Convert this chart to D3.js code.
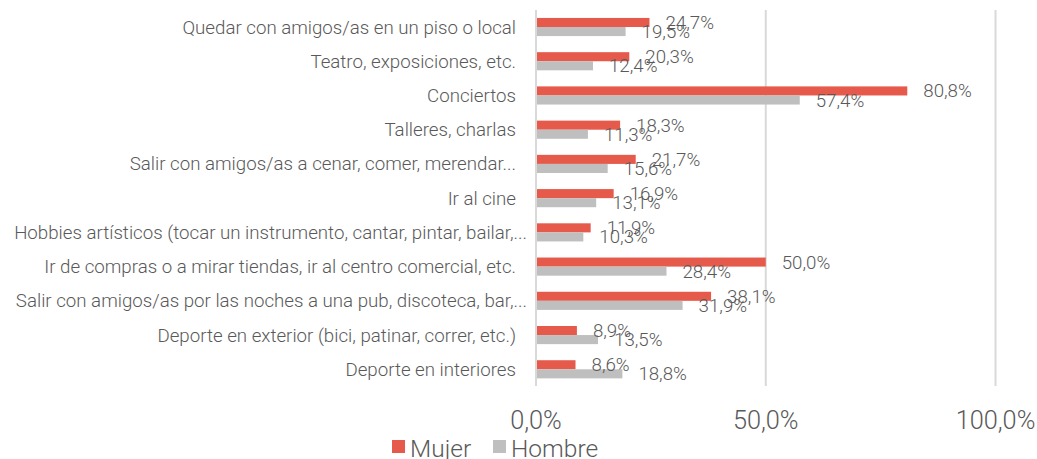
<!DOCTYPE html>
<html>
<head>
<meta charset="utf-8">
<script src="https://cdn.jsdelivr.net/npm/d3@7"></script>
<style>
  body { margin: 0; background: #fff; }
  svg text { font-family: Roboto, "Open Sans", sans-serif; font-weight: 300; fill: #595959; }
</style>
</head>
<body>
<script>
var width = 1037, height = 459;

// data
var categories = [
  "Quedar con amigos/as en un piso o local",
  "Teatro, exposiciones, etc.",
  "Conciertos",
  "Talleres, charlas",
  "Salir con amigos/as a cenar, comer, merendar...",
  "Ir al cine",
  "Hobbies artísticos (tocar un instrumento, cantar, pintar, bailar,...",
  "Ir de compras o a mirar tiendas, ir al centro comercial, etc.",
  "Salir con amigos/as por las noches a una pub, discoteca, bar,...",
  "Deporte en exterior (bici, patinar, correr, etc.)",
  "Deporte en interiores"
];
var mujer  = [24.7, 20.3, 80.8, 18.3, 21.7, 16.9, 11.9, 50.0, 38.1, 8.9, 8.6];
var hombre = [19.5, 12.4, 57.4, 11.3, 15.6, 13.1, 10.3, 28.4, 31.9, 13.5, 18.8];
var seriesNames = ["Mujer", "Hombre"];
var seriesColors = ["#E65A4B", "#BFBFBF"];
var xTicks = [0, 50, 100];

var fmt = function(v) { return d3.format(".1f")(v).replace(".", ",") + "%"; };

var svg = d3.select("body").append("svg")
  .attr("width", width)
  .attr("height", height);

var x = d3.scaleLinear().domain([0, 100]).range([536, 995.5]);
var y = d3.scaleBand().domain(categories).range([9.9, 386.4]).paddingInner(0.47).paddingOuter(0.235);
var ySub = d3.scaleBand().domain(seriesNames).range([0, y.bandwidth()]);

// gridlines
svg.append("g").selectAll("line")
  .data(xTicks.slice(1))
  .enter().append("line")
  .attr("x1", function(d) { return x(d); })
  .attr("x2", function(d) { return x(d); })
  .attr("y1", 10).attr("y2", 386)
  .attr("stroke", "#d9d9d9").attr("stroke-width", 2);

// tick labels
svg.append("g").selectAll("text")
  .data(xTicks)
  .enter().append("text")
  .attr("x", function(d) { return x(d); })
  .attr("y", 429)
  .attr("text-anchor", "middle")
  .style("font-size", "25.3px")
  .text(function(d) { return fmt(d); });

// bars
var rows = categories.map(function(c, i) {
  return {cat: c, vals: [mujer[i], hombre[i]]};
});

var row = svg.selectAll(".row")
  .data(rows)
  .enter().append("g")
  .attr("class", "row")
  .attr("transform", function(d) { return "translate(0," + y(d.cat) + ")"; });

row.selectAll("rect")
  .data(function(d) { return d.vals; })
  .enter().append("rect")
  .attr("x", x(0))
  .attr("y", function(d, i) { return ySub(seriesNames[i]); })
  .attr("width", function(d) { return x(d) - x(0); })
  .attr("height", ySub.bandwidth())
  .attr("fill", function(d, i) { return seriesColors[i]; });

row.selectAll(".val")
  .data(function(d) { return d.vals; })
  .enter().append("text")
  .attr("class", "val")
  .attr("x", function(d) { return x(d) + 16; })
  .attr("y", function(d, i) { return ySub(seriesNames[i]) + ySub.bandwidth() / 2; })
  .attr("dy", "0.35em")
  .style("font-size", "18.7px")
  .text(function(d) { return fmt(d); });

// category labels
svg.append("g").selectAll("text")
  .data(categories)
  .enter().append("text")
  .attr("x", function(d) { return /\.\.\.$/.test(d) && d.indexOf("merendar") < 0 ? 527 : 516; })
  .attr("y", function(d) { return y(d) + y.bandwidth() / 2; })
  .attr("dy", "0.35em")
  .attr("text-anchor", "end")
  .style("font-size", "18.7px")
  .text(function(d) { return d; });

// axis line
svg.append("line")
  .attr("x1", x(0)).attr("x2", x(0))
  .attr("y1", 10).attr("y2", 386)
  .attr("stroke", "#d9d9d9").attr("stroke-width", 2);

// legend
var legend = svg.append("g").attr("transform", "translate(392,0)");
var lx = [0, 101];
seriesNames.forEach(function(s, i) {
  legend.append("rect")
    .attr("x", lx[i]).attr("y", 440)
    .attr("width", 13).attr("height", 13)
    .attr("fill", seriesColors[i]);
  legend.append("text")
    .attr("x", lx[i] + 18).attr("y", 457)
    .style("font-size", "24.5px")
    .text(s);
});
</script>
</body>
</html>
